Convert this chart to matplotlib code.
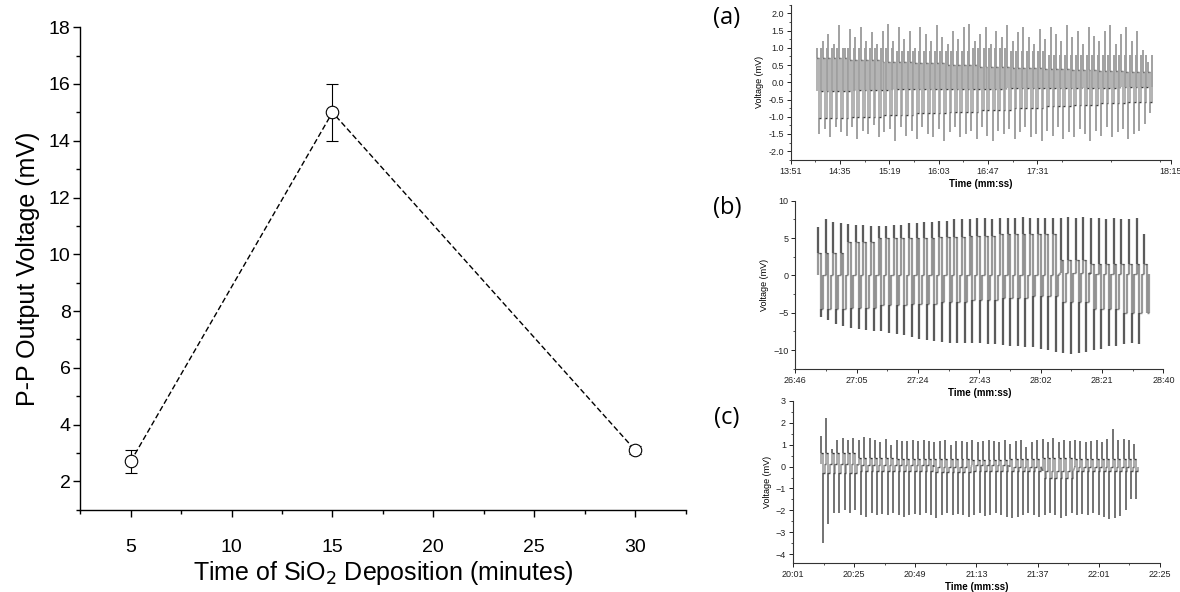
import numpy as np
import matplotlib.pyplot as plt
from matplotlib.collections import LineCollection
from matplotlib.ticker import MultipleLocator

plt.rcParams['font.family'] = ['Liberation Sans', 'DejaVu Sans']

# main plot: P-P voltage vs deposition time
dep_time = [5, 15, 30]
pp_voltage = [2.7, 15.0, 3.1]
pp_err = [0.4, 1.0, 0.15]

# waveform (a): per-cycle positive / negative peaks, band levels along the record
a_start, a_end = "14:15", "19:10"
a_up = [1.0, 1.2, 1.4, 1.1, 1.65, 1.0, 1.55, 1.3, 1.6, 1.2,
        1.45, 1.1, 1.5, 1.7, 1.2, 1.6, 1.25, 1.5, 1.0, 1.6,
        1.4, 1.2, 1.65, 1.3, 1.1, 1.5, 1.25, 1.6, 1.7, 1.2,
        1.4, 1.6, 1.1, 1.5, 1.3, 1.65, 1.2, 1.45, 1.6, 1.3,
        1.1, 1.55, 1.25, 1.6, 1.4, 1.2, 1.65, 1.3, 1.5, 1.1,
        1.6, 1.35, 1.2, 1.5, 1.65, 1.1, 1.4, 1.6, 1.2, 1.5,
        0.95, 0.6]
a_dn = [-1.5, -1.35, -1.6, -1.3, -1.45, -1.55, -1.3, -1.65, -1.4, -1.5,
        -1.25, -1.6, -1.45, -1.35, -1.7, -1.3, -1.55, -1.4, -1.65, -1.3,
        -1.5, -1.6, -1.35, -1.7, -1.45, -1.3, -1.6, -1.5, -1.4, -1.65,
        -1.3, -1.55, -1.7, -1.4, -1.5, -1.35, -1.65, -1.45, -1.3, -1.6,
        -1.5, -1.7, -1.4, -1.55, -1.3, -1.65, -1.45, -1.6, -1.35, -1.5,
        -1.7, -1.4, -1.55, -1.3, -1.6, -1.45, -1.35, -1.65, -1.5, -1.4,
        -1.2, -0.9]
a_hi = [0.7, 0.65, 0.6, 0.55, 0.5, 0.45, 0.42, 0.4, 0.35, 0.32, 0.3]
a_mid = [-0.25, -0.22, -0.2, -0.2, -0.2, -0.18, -0.18, -0.17, -0.15]
a_lo = [-1.05, -1.0, -0.95, -0.9, -0.85, -0.8, -0.75, -0.7, -0.65, -0.6, -0.58]
a_up2 = [1.0, 1.0, 0.9, 0.9, 1.0, 0.9, 0.8, 0.8, 0.8]
a_ticks = ["13:51", "14:35", "15:19", "16:03", "16:47", "17:31", "18:15"]

# waveform (b)
b_start, b_end = "26:53", "28:34"
b_up = [6.5, 7.6, 7.2, 7.0, 6.9, 6.8, 6.7, 6.6, 6.6, 6.6,
        6.7, 6.8, 7.0, 7.0, 7.2, 7.2, 7.3, 7.3, 7.5, 7.5,
        7.6, 7.7, 7.7, 7.6, 7.7, 7.7, 7.7, 7.8, 7.7, 7.7,
        7.7, 7.7, 7.7, 7.8, 7.7, 7.8, 7.7, 7.7, 7.6, 7.7,
        7.6, 7.6, 7.7, 5.5]
b_dn = [-5.5, -6.0, -6.5, -6.8, -7.0, -7.2, -7.3, -7.4, -7.5, -7.7,
        -7.8, -8.0, -8.2, -8.5, -8.6, -8.8, -8.9, -9.0, -9.0, -9.0,
        -9.1, -9.1, -9.2, -9.2, -9.3, -9.4, -9.5, -9.6, -9.6, -9.8,
        -10.0, -10.2, -10.4, -10.5, -10.4, -10.2, -10.0, -9.8, -9.5, -9.4,
        -9.2, -9.1, -9.2, -3.0]
b_hi = [3.0, 4.5, 5.0, 5.0, 5.2, 5.3, 5.5, 5.5, 2.0, 1.5, 1.5]
b_mid = [0.0, 0.0, 0.0, 0.0, 0.0, 0.0, 0.0, 0.0, 0.3, 0.2, 0.2]
b_lo = [-4.5, -4.3, -4.0, -3.8, -3.5, -3.3, -3.0, -2.8, -3.5, -4.5, -5.0]
b_ticks = ["26:46", "27:05", "27:24", "27:43", "28:02", "28:21", "28:40"]

# waveform (c)
c_start, c_end = "20:12", "22:15"
c_up = [1.4, 2.2, 0.8, 1.2, 1.3, 1.2, 1.3, 1.2, 1.35, 1.3,
        1.2, 1.1, 1.25, 1.0, 1.2, 1.15, 1.15, 1.2, 1.15, 1.2,
        1.15, 1.1, 1.15, 1.2, 1.0, 1.15, 1.15, 1.1, 1.2, 1.1,
        1.15, 1.2, 1.15, 1.1, 1.2, 1.05, 1.15, 1.2, 0.9, 1.1,
        1.2, 1.25, 1.1, 1.3, 1.1, 1.2, 1.15, 1.2, 1.15, 1.1,
        1.15, 1.2, 1.1, 1.25, 1.7, 1.2, 1.25, 1.2, 1.05]
c_dn = [-3.5, -2.6, -2.1, -2.1, -2.0, -2.1, -2.0, -2.2, -2.3, -2.1,
        -2.2, -2.15, -2.2, -2.1, -2.2, -2.3, -2.2, -2.15, -2.2, -2.1,
        -2.2, -2.35, -2.2, -2.1, -2.2, -2.15, -2.2, -2.3, -2.2, -2.1,
        -2.25, -2.2, -2.1, -2.2, -2.3, -2.35, -2.3, -2.2, -2.1, -2.2,
        -2.3, -2.2, -2.1, -2.2, -2.35, -2.25, -2.1, -2.2, -2.15, -2.2,
        -2.1, -2.2, -2.3, -2.4, -2.35, -2.25, -2.0, -1.5, -1.5]
c_hi = [0.6, 0.4, 0.35, 0.35, 0.3, 0.35, 0.4, 0.35, 0.35]
c_mid = [0.1, 0.05, 0.05, 0.0, 0.05, 0.0, -0.2, 0.0, 0.0]
c_lo = [-0.3, -0.2, -0.2, -0.25, -0.2, -0.2, -0.5, -0.2, -0.2]
c_ticks = ["20:01", "20:25", "20:49", "21:13", "21:37", "22:01", "22:25"]


def secs(s):
    m, ss = s.split(":")
    return int(m) * 60 + int(ss)


def per_cycle(levels, n):
    groups = np.array_split(np.arange(n), len(levels))
    return np.concatenate([np.full(len(g), v) for g, v in zip(groups, levels)])


def wave(start, end, up, dn, hi, mid, lo, up2=None, lw=1.2,
         stroke=(0, 0, 0, 0.4), dwell=(0, 0, 0, 0.7)):
    # each cycle: three vertical strokes joined by short dwell segments
    n = len(up)
    t0, t1 = secs(start), secs(end)
    per = (t1 - t0) / (n - 1)
    starts = np.linspace(t0, t1, n)
    h, m, l = per_cycle(hi, n), per_cycle(mid, n), per_cycle(lo, n)
    u2 = per_cycle(up2, n) if up2 is not None else m
    frac = np.array([0, 0, 0, 0.36, 0.36, 0.36, 0.68, 0.68, 0.68])
    vals = np.column_stack([m, up, h, h, dn, l, l, u2, m])
    t = (starts[:, None] + frac * per).ravel()
    pts = np.column_stack([t, vals.ravel()])
    segs = np.stack([pts[:-1], pts[1:]], axis=1)
    flat = np.isclose(segs[:, 0, 1], segs[:, 1, 1])
    cols = np.where(flat[:, None], [dwell], [stroke])
    lws = np.where(flat, 1.0, lw)
    return LineCollection(segs, colors=cols, linewidths=lws)


fig = plt.figure(figsize=(11.8, 5.92), dpi=100)

# ---- main plot
ax = fig.add_axes([0.068, 0.139, 0.513, 0.815])
ax.errorbar(dep_time, pp_voltage, yerr=pp_err, fmt='none', ecolor='k',
            elinewidth=0.8, capsize=4, capthick=0.8, zorder=2)
ax.plot(dep_time, pp_voltage, color='k', ls=(0, (4, 2)), lw=1.0, zorder=3)
ax.plot(dep_time, pp_voltage, 'o', ms=9, mfc='white', mec='k', mew=0.8, zorder=4)
ax.set_xlim(2.5, 32.5)
ax.set_ylim(1, 18)
ax.xaxis.set_minor_locator(MultipleLocator(2.5))
ax.yaxis.set_major_locator(MultipleLocator(2))
ax.yaxis.set_minor_locator(MultipleLocator(1))
ax.set_xticks([5, 10, 15, 20, 25, 30])
for s in ['top', 'right']:
    ax.spines[s].set_visible(False)
for s in ['left', 'bottom']:
    ax.spines[s].set_linewidth(1.0)
ax.tick_params(which='major', length=5, width=1.0, labelsize=14, direction='out')
ax.tick_params(which='minor', length=3, width=1.0, direction='out')
ax.tick_params(axis='x', which='major', pad=16)
ax.tick_params(axis='y', which='major', pad=2)
ax.set_ylabel('P-P Output Voltage (mV)', fontsize=18, labelpad=6)
ax.set_xlabel('Time of SiO$_2$ Deposition (minutes)', fontsize=18, labelpad=2)

# ---- small waveform panels
panels = [
    ([0.670, 0.730, 0.322, 0.262],
     wave(a_start, a_end, a_up, a_dn, a_hi, a_mid, a_lo, a_up2, lw=1.1,
          stroke=(0.62, 0.62, 0.62, 1.0), dwell=(0.15, 0.15, 0.15, 0.9)),
     (-2.25, 2.25), 1170, a_ticks, 0.5, 0.25, "(a)", 18),
    ([0.674, 0.377, 0.312, 0.284],
     wave(b_start, b_end, b_up, b_dn, b_hi, b_mid, b_lo, lw=1.6,
          stroke=(0, 0, 0, 0.4), dwell=(0, 0, 0, 0.45)),
     (-12.5, 10), None, b_ticks, 5, 2.5, "(b)", 208),
    ([0.672, 0.049, 0.311, 0.274],
     wave(c_start, c_end, c_up, c_dn, c_hi, c_mid, c_lo, lw=1.2,
          stroke=(0, 0, 0, 0.38), dwell=(0, 0, 0, 0.7)),
     (-4.4, 3), None, c_ticks, 1, 0.5, "(c)", 418),
]

for rect, lc, ylim, xend, ticks, ymaj, ymin, tag, tag_y in panels:
    sax = fig.add_axes(rect)
    sax.add_collection(lc)
    pos = [secs(s) for s in ticks]
    if xend is not None:
        pos[-1] = xend
    sax.set_xlim(pos[0], pos[-1])
    sax.set_ylim(*ylim)
    sax.set_xticks(pos)
    sax.set_xticklabels(ticks)
    step = (pos[1] - pos[0]) / 2
    sax.set_xticks(np.arange(pos[0] + step, pos[-1], 2 * step), minor=True)
    sax.yaxis.set_major_locator(MultipleLocator(ymaj))
    sax.yaxis.set_minor_locator(MultipleLocator(ymin))
    if tag == "(a)":
        sax.yaxis.set_major_formatter(plt.FormatStrFormatter('%.1f'))
    for s in ['top', 'right']:
        sax.spines[s].set_visible(False)
    for s in ['left', 'bottom']:
        sax.spines[s].set_linewidth(0.8)
        sax.spines[s].set_color('#333333')
    sax.tick_params(which='major', length=3, width=0.7, labelsize=6.5,
                    colors='#222222', pad=2)
    sax.tick_params(which='minor', length=1.5, width=0.6, colors='#333333')
    sax.set_ylabel('Voltage (mV)', fontsize=6.5, labelpad=3)
    sax.set_xlabel('Time (mm:ss)', fontsize=7, fontweight='bold', labelpad=2)
    fig.text(727 / 1180, 1 - tag_y / 592, tag, fontsize=17,
             family=['Open Sans', 'DejaVu Sans'], ha='center', va='center')

fig.savefig('out.png', dpi=100)
